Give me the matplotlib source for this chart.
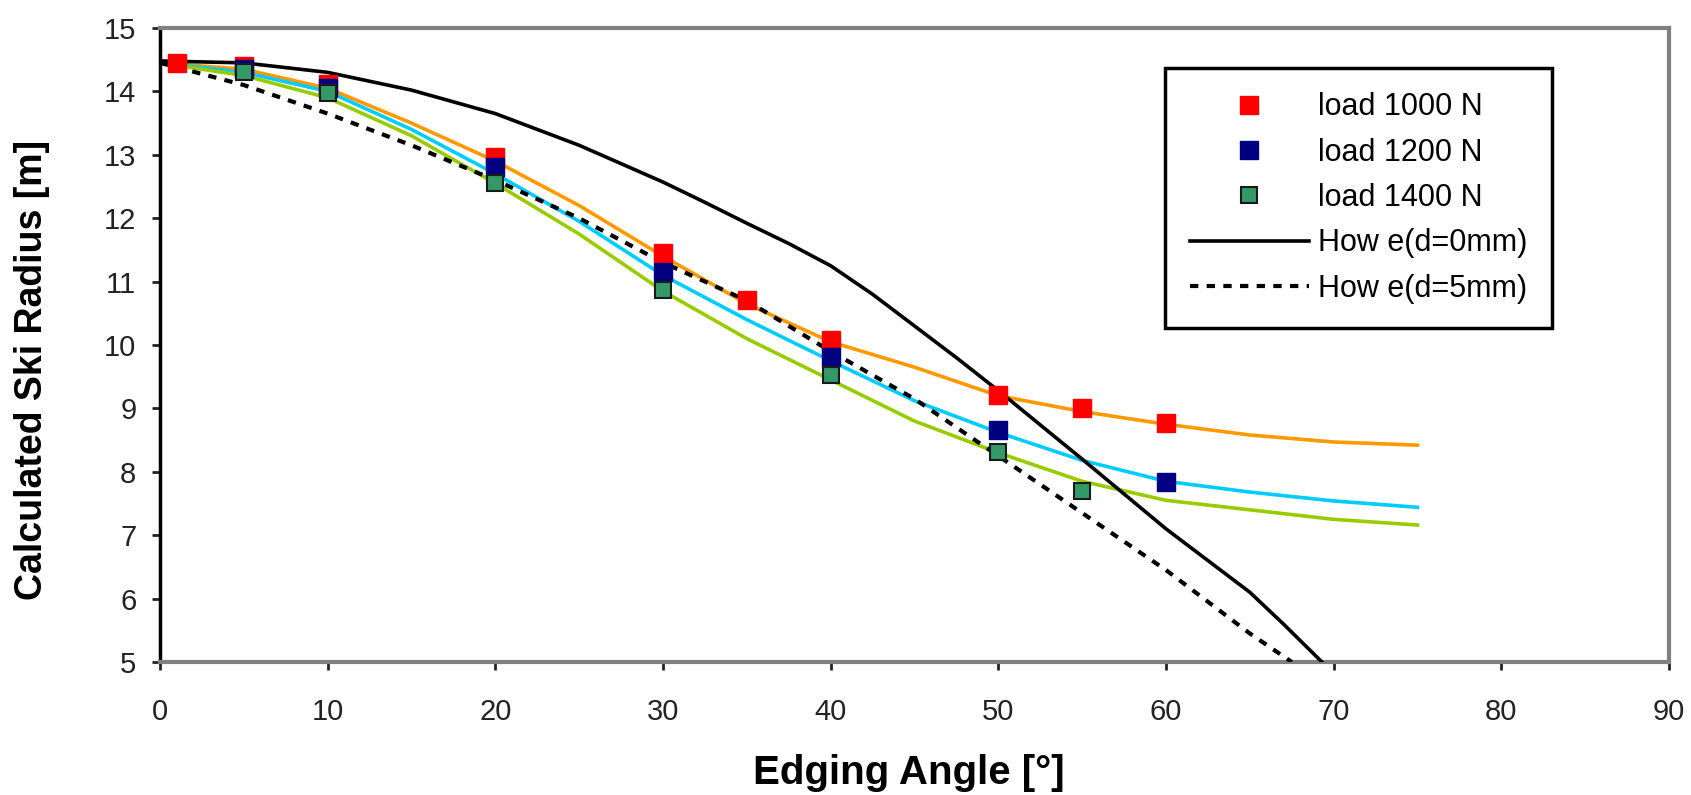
import matplotlib
matplotlib.use('Agg')
import matplotlib.pyplot as plt

plt.rcParams['font.family'] = ['Liberation Sans', 'DejaVu Sans']

# fitted curves (every 5 degrees)
angle_curve = [0, 5, 10, 15, 20, 25, 30, 35, 40, 45, 50, 55, 60, 65, 70, 75]
r_1000 = [14.45, 14.35, 14.05, 13.5, 12.9, 12.2, 11.4, 10.65, 10.05, 9.65, 9.2, 8.95, 8.75, 8.58, 8.47, 8.42]
r_1200 = [14.45, 14.3, 14.0, 13.4, 12.7, 11.95, 11.1, 10.4, 9.75, 9.12, 8.62, 8.18, 7.85, 7.68, 7.54, 7.44]
r_1400 = [14.45, 14.25, 13.9, 13.3, 12.55, 11.75, 10.85, 10.1, 9.45, 8.8, 8.3, 7.85, 7.55, 7.4, 7.25, 7.16]

# Howe formula
angle_howe0 = [0, 5, 10, 15, 20, 25, 30, 32.5, 35, 37.5, 40, 42.5, 45, 47.5, 50, 55, 60, 65, 67, 69.3]
r_howe0 = [14.48, 14.45, 14.3, 14.02, 13.65, 13.15, 12.57, 12.25, 11.92, 11.6, 11.25,
           10.8, 10.3, 9.8, 9.28, 8.2, 7.1, 6.1, 5.6, 5.0]
angle_howe5 = [0, 5, 10, 15, 20, 25, 30, 35, 40, 45, 50, 55, 60, 65, 67.5]
r_howe5 = [14.45, 14.1, 13.65, 13.15, 12.6, 12.0, 11.3, 10.7, 9.9, 9.15, 8.25, 7.35, 6.45, 5.45, 5.0]

# calculated points
ang_1000 = [1, 5, 10, 20, 30, 35, 40, 50, 55, 60]
pts_1000 = [14.45, 14.4, 14.12, 12.97, 11.45, 10.71, 10.08, 9.21, 9.0, 8.77]
ang_1200 = [5, 10, 20, 30, 40, 50, 60]
pts_1200 = [14.35, 14.05, 12.8, 11.15, 9.81, 8.66, 7.84]
ang_1400 = [5, 10, 20, 30, 40, 50, 55]
pts_1400 = [14.31, 13.97, 12.55, 10.87, 9.53, 8.31, 7.7]

fig = plt.figure(figsize=(16.91, 7.95), dpi=100)
ax = fig.add_axes([0.0946, 0.1673, 0.8924, 0.7975])

ax.plot(angle_curve, r_1000, color='#FF9900', lw=2.6, zorder=2)
ax.plot(angle_curve, r_1200, color='#00CCFF', lw=2.6, zorder=2)
ax.plot(angle_curve, r_1400, color='#99CC00', lw=2.6, zorder=2)

h_howe0, = ax.plot(angle_howe0, r_howe0, color='black', lw=2.6, zorder=3,
                   label='How e(d=0mm)')
h_howe5, = ax.plot(angle_howe5, r_howe5, color='black', lw=3, ls=(0, (2, 2)),
                   zorder=3, label='How e(d=5mm)')

h1, = ax.plot(ang_1000, pts_1000, 's', color='#FF0000', ms=13, mec='#FF0000',
              zorder=4, label='load 1000 N')
h2, = ax.plot(ang_1200, pts_1200, 's', color='#000080', ms=13, mec='#000080',
              zorder=5, label='load 1200 N')
h3, = ax.plot(ang_1400, pts_1400, 's', color='#339966', ms=12, mec='#1a1a1a',
              mew=1.5, zorder=6, label='load 1400 N')

ax.set_xlim(0, 90)
ax.set_ylim(5, 15)
ax.set_xticks(range(0, 91, 10))
ax.set_yticks(range(5, 16))

for s in ['top', 'right', 'bottom']:
    ax.spines[s].set_color('#808080')
    ax.spines[s].set_linewidth(3)
ax.spines['left'].set_color('black')
ax.spines['left'].set_linewidth(2.5)
ax.tick_params(axis='both', direction='out', length=6, width=2, colors='#222222',
               labelsize=21)
ax.tick_params(axis='x', pad=20)
ax.tick_params(axis='y', pad=11)

ax.set_xlabel('Edging Angle [°]', fontsize=29, fontweight='bold', va='center')
ax.xaxis.set_label_coords(0.496, -0.175)
ax.set_ylabel('Calculated Ski Radius [m]', fontsize=27, fontweight='bold', va='center')
ax.yaxis.set_label_coords(-0.085, 0.46)

leg = fig.legend(handles=[h1, h2, h3, h_howe0, h_howe5], loc='upper left',
                 bbox_to_anchor=(0.689, 0.9145), borderaxespad=0, fontsize=22,
                 frameon=True, fancybox=False, edgecolor='black', framealpha=1,
                 handlelength=3.9, labelspacing=0.5, borderpad=0.8, handletextpad=0.3)
leg.get_frame().set_linewidth(2.5)

fig.savefig('out.png', dpi=100)
